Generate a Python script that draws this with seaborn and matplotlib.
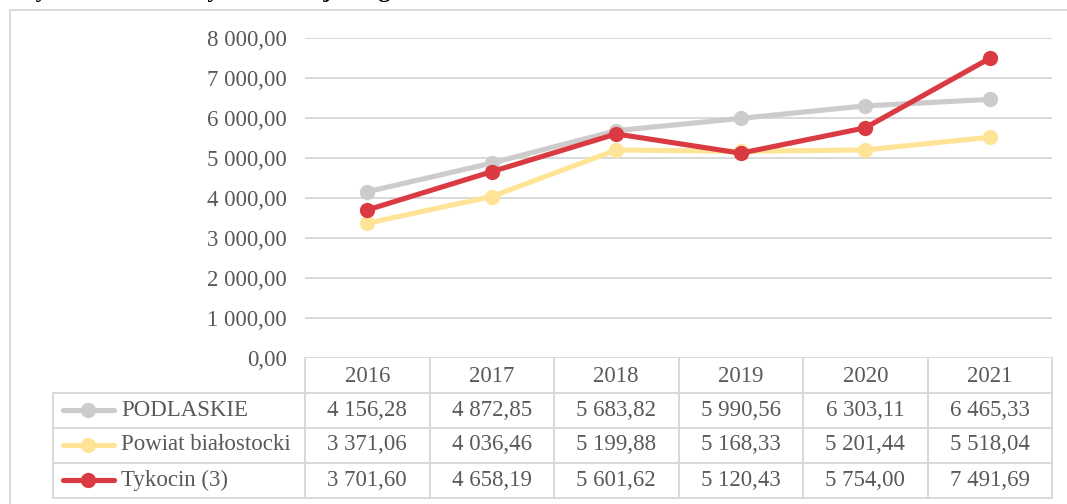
import matplotlib
matplotlib.use("Agg")
import matplotlib.pyplot as plt
from matplotlib.lines import Line2D
from matplotlib.transforms import blended_transform_factory
import pandas as pd
import seaborn as sns

# ---- data ----
years = ["2016", "2017", "2018", "2019", "2020", "2021"]
series_names = ["PODLASKIE", "Powiat białostocki", "Tykocin (3)"]
podlaskie = [4156.28, 4872.85, 5683.82, 5990.56, 6303.11, 6465.33]
powiat = [3371.06, 4036.46, 5199.88, 5168.33, 5201.44, 5518.04]
tykocin = [3701.60, 4658.19, 5601.62, 5120.43, 5754.00, 7491.69]
y_ticks = [0, 1000, 2000, 3000, 4000, 5000, 6000, 7000, 8000]
title = "Wydatki budżetu Tykocina na jednego mieszkańca"

series_values = [podlaskie, powiat, tykocin]
colors = ["#CDCBCB", "#FFE497", "#DA3A41"]
grid_color = "#D9D9D9"
text_color = "#595959"

sns.set_theme(style="white")
plt.rcParams["font.family"] = ["Liberation Serif", "DejaVu Serif"]


def fmt(v):
    return f"{v:,.2f}".replace(",", " ").replace(".", ",")


df = pd.DataFrame(
    [
        {"x": i, "year": y, "series": name, "value": vals[i]}
        for name, vals in zip(series_names, series_values)
        for i, y in enumerate(years)
    ]
)

W, H = 1067, 504
fig = plt.figure(figsize=(W / 100, H / 100), dpi=100)


def fx(px):
    return px / W


def fy(py):
    return 1 - py / H


# plot area
ax = fig.add_axes([fx(305), fy(358), fx(1052) - fx(305), fy(38) - fy(358)])
ax.set_xlim(-0.5, len(years) - 0.5)
ax.set_ylim(y_ticks[0], y_ticks[-1])
ax.set_yticks(y_ticks)
ax.set_yticklabels([fmt(t) for t in y_ticks], fontsize=16.5, color=text_color)
ax.set_xticks([])
ax.tick_params(axis="y", length=0, pad=13)
for sp in ax.spines.values():
    sp.set_visible(False)
for t in y_ticks:
    ax.axhline(t, color=grid_color, lw=1.4, zorder=0)

sns.lineplot(
    data=df, x="x", y="value", hue="series", hue_order=series_names,
    palette=colors, marker="o", markersize=11, markeredgewidth=0,
    linewidth=3.7, legend=False, ax=ax, clip_on=False,
)
ax.set_xlabel("")
ax.set_ylabel("")

# data table below the plot
trans = blended_transform_factory(ax.transData, fig.transFigure)
ftrans = fig.transFigure
row_lines = [393, 428, 463, 498]
header_mid = 376
row_mids = [410, 445, 480]
table_left = 53
fs = 16.5

# vertical lines of the year columns
for i in range(len(years) + 1):
    x = i - 0.5
    ax.add_artist(Line2D([x, x], [fy(358), fy(row_lines[-1])], transform=trans,
                         color=grid_color, lw=1.4, clip_on=False))
# left border of the legend column
fig.add_artist(Line2D([fx(table_left), fx(table_left)], [fy(row_lines[0]), fy(row_lines[-1])],
                      transform=ftrans, color=grid_color, lw=1.4))
# horizontal lines
for r in row_lines:
    fig.add_artist(Line2D([fx(table_left), fx(1052)], [fy(r), fy(r)],
                          transform=ftrans, color=grid_color, lw=1.4))

# year header
for i, y in enumerate(years):
    ax.text(i, fy(header_mid), y, transform=trans, ha="center", va="center",
            fontsize=fs, color=text_color, clip_on=False)

# rows: legend key + values
for name, vals, c, ym in zip(series_names, series_values, colors, row_mids):
    fig.add_artist(Line2D([fx(63), fx(114)], [fy(ym), fy(ym)], transform=ftrans,
                          color=c, lw=3.7, solid_capstyle="round"))
    fig.add_artist(Line2D([fx(88)], [fy(ym)], transform=ftrans, color=c,
                          marker="o", markersize=11, markeredgewidth=0))
    fig.text(fx(121), fy(ym), name, ha="left", va="center", fontsize=fs,
             color=text_color)
    for i, v in enumerate(vals):
        ax.text(i, fy(ym), fmt(v), transform=trans, ha="center", va="center",
                fontsize=fs, color=text_color, clip_on=False)

# outer chart frame
fig.add_artist(Line2D([fx(10), fx(10)], [fy(10), 0], transform=ftrans,
                      color=grid_color, lw=1.4))
fig.add_artist(Line2D([fx(10), 1], [fy(10), fy(10)], transform=ftrans,
                      color=grid_color, lw=1.4))

# caption above the chart, running off the top edge of the canvas
fig.text(fx(13), fy(-3), title, ha="left", va="baseline", fontsize=17,
         fontweight="bold", color="black")

fig.savefig("out.png", dpi=100, facecolor="white")
